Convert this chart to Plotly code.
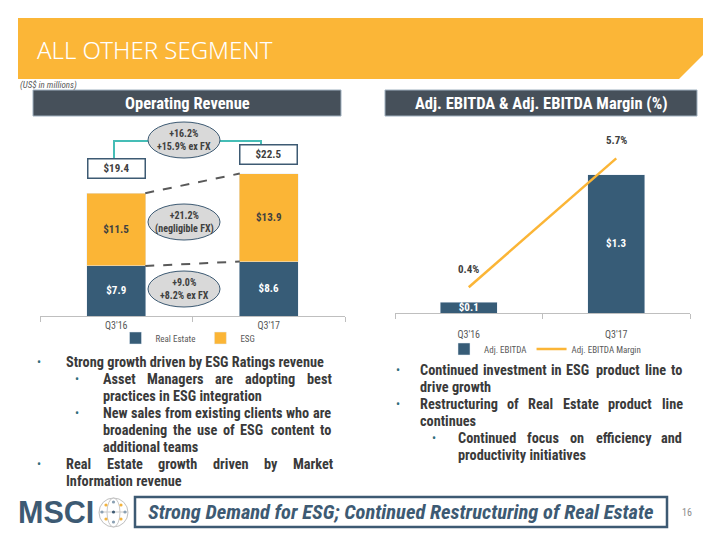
import plotly.graph_objects as go

# ---------------- data ----------------
quarters = ["Q3'16", "Q3'17"]
real_estate = [7.9, 8.6]
esg = [11.5, 13.9]
totals = [19.4, 22.5]
ebitda = [0.1, 1.3]
ebitda_margin = [0.4, 5.7]
margin_labels = ["0.4%", "5.7%"]
growth_total = "+16.2%<br>+15.9% ex FX"
growth_esg = "+21.2%<br>(negligible FX)"
growth_re = "+9.0%<br>+8.2% ex FX"

# (level, has bullet, justified, text)
left_bullets = [
    (1, True, False, "Strong growth driven by ESG Ratings revenue"),
    (2, True, True, "Asset Managers are adopting best"),
    (2, False, False, "practices in ESG integration"),
    (2, True, True, "New sales from existing clients who are"),
    (2, False, True, "broadening the use of ESG content to"),
    (2, False, False, "additional teams"),
    (1, True, True, "Real Estate growth driven by Market"),
    (1, False, False, "Information revenue"),
]
right_bullets = [
    (1, True, True, "Continued investment in ESG product line to"),
    (1, False, False, "drive growth"),
    (1, True, True, "Restructuring of Real Estate product line"),
    (1, False, False, "continues"),
    (2, True, True, "Continued focus on efficiency and"),
    (2, False, False, "productivity initiatives"),
]

# ---------------- style ----------------
W, H = 720, 540
FONT = "Liberation Sans Narrow, Roboto Condensed, Open Sans, sans-serif"
BLUE = "#375c77"
ORANGE = "#fbb536"
HEAD = "#46505a"
DARK = "#404040"
NAVY = "#3d5a73"
BODY_SIZE = 14.3

# approximate bold glyph advance widths (per 1000 em) used to justify lines
_AW = dict(zip("abcdefghijklmnopqrstuvwxyz",
               [556, 611, 556, 611, 556, 333, 611, 611, 278, 278, 556, 278, 889, 611, 611, 611, 611, 389,
                556, 333, 611, 556, 778, 556, 556, 500]))
_AW.update(dict(zip("ABCDEFGHIJKLMNOPQRSTUVWXYZ",
                    [722, 722, 722, 722, 667, 611, 778, 722, 278, 556, 722, 611, 833, 722, 778, 667, 778, 722,
                     667, 611, 722, 667, 944, 667, 667, 611])))


def text_width(s, size):
    return sum(_AW.get(c, 556) for c in s) * 0.82 / 1000 * size


def X(p):
    return p / W


def Y(p):
    return 1 - p / H


fig = go.Figure()

fig.add_trace(go.Bar(
    x=quarters, y=real_estate, name="Real Estate", marker_color=BLUE,
    xaxis="x", yaxis="y", legend="legend",
    texttemplate="<b>$%{y:.1f}</b>", textposition="inside", insidetextanchor="middle",
    textfont=dict(color="white", size=11, family=FONT),
))
fig.add_trace(go.Bar(
    x=quarters, y=esg, name="ESG", marker_color=ORANGE,
    xaxis="x", yaxis="y", legend="legend",
    texttemplate="<b>$%{y:.1f}</b>", textposition="inside", insidetextanchor="middle",
    textfont=dict(color=DARK, size=11, family=FONT),
))
fig.add_trace(go.Bar(
    x=quarters, y=ebitda, name="Adj. EBITDA", marker_color=BLUE,
    xaxis="x2", yaxis="y2", legend="legend2",
    texttemplate="<b>$%{y:.1f}</b>", textposition="inside", insidetextanchor="middle",
    constraintext="none", cliponaxis=False,
    textfont=dict(color="white", size=11, family=FONT),
))
fig.add_trace(go.Scatter(
    x=quarters, y=ebitda_margin, name="Adj. EBITDA Margin", mode="lines",
    line=dict(color=ORANGE, width=2.5),
    xaxis="x2", yaxis="y3", legend="legend2",
))

shapes = []
annotations = []


def note(x, y, text, size, color, family=FONT, xanchor="center", weight=None, **kw):
    f = dict(size=size, color=color, family=family)
    if weight:
        f["weight"] = weight
    annotations.append(dict(x=X(x), y=Y(y), xref="paper", yref="paper", xanchor=xanchor,
                            yanchor="middle", text=text, showarrow=False, font=f, **kw))


# banner
shapes.append(dict(type="path", xref="paper", yref="paper",
                   path=f"M {X(18)},{Y(18)} L {X(703)},{Y(18)} L {X(703)},{Y(55)} L {X(679)},{Y(79)} L {X(18)},{Y(79)} Z",
                   fillcolor="#fbb637", line=dict(width=0), layer="below"))
note(35, 49, "ALL OTHER SEGMENT", 24, "white", family="Noto Sans, Open Sans, sans-serif",
     xanchor="left", weight=300)
note(18, 85, "<i>(US$ in millions)</i>", 9, "#595959", xanchor="left")

# headers
for x0, x1, txt in [(33, 341, "Operating Revenue"), (385, 697, "Adj. EBITDA &amp; Adj. EBITDA Margin (%)")]:
    shapes.append(dict(type="rect", xref="paper", yref="paper", x0=X(x0), x1=X(x1), y0=Y(116), y1=Y(90),
                       fillcolor=HEAD, line=dict(color="#9fb0bf", width=1)))
    note((x0 + x1) / 2, 103, f"<b>{txt}</b>", 16.5, "white")

# teal connector between totals
shapes.append(dict(type="path", xref="paper", yref="paper",
                   path=f"M {X(114)},{Y(160)} L {X(114)},{Y(141)} L {X(149)},{Y(141)}",
                   line=dict(color="#45bdb6", width=2)))
shapes.append(dict(type="path", xref="paper", yref="paper",
                   path=f"M {X(219)},{Y(141)} L {X(261)},{Y(141)} L {X(261)},{Y(145)}",
                   line=dict(color="#45bdb6", width=2)))

# dashed connectors between bar tops (data coords)
half = 0.19
for a, b in [(totals[0], totals[1]), (real_estate[0], real_estate[1])]:
    shapes.append(dict(type="line", xref="x", yref="y", x0=0 + half, x1=1 - half, y0=a, y1=b,
                       line=dict(color="#595959", width=2, dash="dash")))

# ellipses
for yc, txt in [(140, growth_total), (222, growth_esg), (289, growth_re)]:
    shapes.append(dict(type="circle", xref="paper", yref="paper", x0=X(148), x1=X(220),
                       y0=Y(yc + 18), y1=Y(yc - 18), fillcolor="#d9d9d9",
                       line=dict(color=NAVY, width=1)))
    note(184, yc, f"<b>{txt}</b>", 10, DARK)

# total boxes
for i, (t, shift) in enumerate(zip(totals, [14, 9])):
    annotations.append(dict(x=quarters[i], y=t, xref="x", yref="y", xanchor="center", yanchor="bottom",
                            yshift=shift, text=f"<b>${t:.1f}</b>", showarrow=False, width=54, height=16,
                            bgcolor="white", bordercolor=NAVY, borderwidth=1.5, borderpad=1,
                            font=dict(size=11, color=DARK, family=FONT)))

# margin labels
for q, v, lab in zip(quarters, ebitda_margin, margin_labels):
    annotations.append(dict(x=q, y=v, xref="x2", yref="y3", xanchor="center", yanchor="bottom", yshift=9,
                            text=f"<b>{lab}</b>", showarrow=False,
                            font=dict(size=11, color=DARK, family=FONT)))


# bullets (justified where the slide justifies)
def add_bullets(lines, y0, bx, tx, right):
    for k, (lvl, has_b, just, txt) in enumerate(lines):
        yy = y0 + 17 * k
        if has_b:
            note(bx[lvl], yy, "•", 12, "#2f6d7c")
        words = txt.split(" ")
        if just and len(words) > 1:
            widths = [text_width(w, BODY_SIZE) for w in words]
            gap = (right - tx[lvl] - sum(widths)) / (len(words) - 1)
            xx = tx[lvl]
            for w, wd in zip(words, widths):
                note(xx, yy, f"<b>{w}</b>", BODY_SIZE, "#3a3a3a", xanchor="left")
                xx += wd + gap
        else:
            note(tx[lvl], yy, f"<b>{txt}</b>", BODY_SIZE, "#3a3a3a", xanchor="left")


add_bullets(left_bullets, 362, {1: 39, 2: 77}, {1: 64, 2: 101}, 329)
add_bullets(right_bullets, 370, {1: 398, 2: 434}, {1: 418, 2: 456}, 680)

# footer
note(16, 512, "<b>MSCI</b>", 30.5, NAVY, family="Liberation Sans, Arial, sans-serif", xanchor="left")
# globe icon
shapes.append(dict(type="circle", xref="paper", yref="paper", x0=X(99), x1=X(128), y0=Y(527), y1=Y(498),
                   line=dict(color="#bfbfbf", width=1)))
shapes.append(dict(type="circle", xref="paper", yref="paper", x0=X(107), x1=X(120), y0=Y(527), y1=Y(498),
                   line=dict(color="#c8c8c8", width=1)))
shapes.append(dict(type="line", xref="paper", yref="paper", x0=X(99), x1=X(128), y0=Y(512), y1=Y(512),
                   line=dict(color="#c8c8c8", width=1)))
for (cx, cy, col) in [(106, 505, "#f3b33d"), (121, 505, "#f3b33d"), (113.5, 512, NAVY), (106, 519, "#f3b33d"),
                      (121, 519, "#f3b33d"), (113.5, 502, "#8aa0b3"), (113.5, 522, "#8aa0b3"),
                      (102, 512, "#8aa0b3"), (125, 512, "#8aa0b3")]:
    shapes.append(dict(type="circle", xref="paper", yref="paper", x0=X(cx - 1.6), x1=X(cx + 1.6),
                       y0=Y(cy + 1.6), y1=Y(cy - 1.6), fillcolor=col, line=dict(width=0)))

shapes.append(dict(type="rect", xref="paper", yref="paper", x0=X(135), x1=X(667), y0=Y(527), y1=Y(497),
                   fillcolor="white", line=dict(color=NAVY, width=2.5), layer="below"))
note(401, 512, "<b><i>Strong Demand for ESG; Continued Restructuring of Real Estate</i></b>", 20.5, NAVY)
note(687, 512, "16", 10, "#8c8c8c")

axis_x = dict(type="category", showline=True, linecolor="#bfbfbf", linewidth=1, ticks="outside",
              tickson="boundaries", ticklen=5, tickcolor="#bfbfbf", showgrid=False, zeroline=False,
              tickfont=dict(size=10, color="#595959", family=FONT), fixedrange=True)

fig.update_layout(
    width=W, height=H, margin=dict(l=0, r=0, t=0, b=0),
    paper_bgcolor="white", plot_bgcolor="rgba(0,0,0,0)",
    barmode="stack", bargap=0.615,
    xaxis=dict(axis_x, domain=[X(40), X(345)], anchor="y"),
    yaxis=dict(domain=[Y(316), Y(130)], range=[0, 29.38], visible=False, anchor="x"),
    xaxis2=dict(axis_x, domain=[X(395), X(690)], anchor="y2", ticklabelstandoff=12),
    yaxis2=dict(domain=[Y(313), Y(130)], range=[0, 1.723], visible=False, anchor="x2"),
    yaxis3=dict(overlaying="y2", range=[-0.66, 6.87], visible=False, anchor="x2", side="right"),
    legend=dict(orientation="h", x=X(188), y=Y(338), xanchor="center", yanchor="middle",
                traceorder="normal", font=dict(size=9, color="#595959", family=FONT),
                bgcolor="rgba(0,0,0,0)", itemwidth=30),
    legend2=dict(orientation="h", x=X(545), y=Y(349), xanchor="center", yanchor="middle",
                 traceorder="normal", font=dict(size=9, color="#595959", family=FONT),
                 bgcolor="rgba(0,0,0,0)", itemwidth=30),
    shapes=shapes, annotations=annotations,
)

fig.write_html("out.html", config={"displayModeBar": False},
               post_script="document.body.style.margin='0';")
